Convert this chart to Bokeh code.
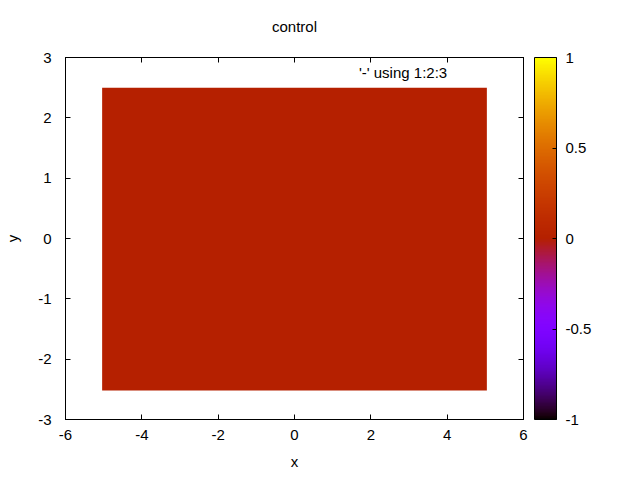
import math
import numpy as np
from bokeh.plotting import figure
from bokeh.models import (Range1d, LinearAxis, FixedTicker, ColorBar, LinearColorMapper,
                          NumeralTickFormatter, Label, ColumnDataSource, CustomLabelingPolicy)
from bokeh.transform import linear_cmap
from bokeh.embed import file_html
from bokeh.resources import INLINE

# ---- data ----
title_text = "control"
legend_text = "'-' using 1:2:3"
x_ticks = [-6, -4, -2, 0, 2, 4, 6]
y_ticks = [-3, -2, -1, 0, 1, 2, 3]
cb_ticks = [-1, -0.5, 0, 0.5, 1]
cell_left = [-5.04]
cell_right = [5.04]
cell_bottom = [-2.52]
cell_top = [2.50]
cell_z = [0.0]
z_low, z_high = -1.0, 1.0

# gnuplot default palette (rgbformulae 7,5,15)
def _gp(t):
    r = math.sqrt(t)
    g = t ** 3
    b = max(0.0, math.sin(2 * math.pi * t))
    return "#%02x%02x%02x" % (int(round(r * 255)), int(round(g * 255)), int(round(min(1, b) * 255)))

palette = [_gp(i / 255) for i in range(256)]
mapper = LinearColorMapper(palette=palette, low=z_low, high=z_high)

FONT = "Liberation Sans"
FS = "15px"

p = figure(width=640, height=480, output_backend="svg", toolbar_location=None,
           x_range=Range1d(-6, 6), y_range=Range1d(-3, 3),
           min_border_left=65, min_border_right=117, min_border_top=57, min_border_bottom=61,
           title=title_text)
p.background_fill_color = "white"
p.border_fill_color = "white"
p.outline_line_color = "black"
p.outline_line_width = 1
p.xgrid.grid_line_color = None
p.ygrid.grid_line_color = None

p.title.text_font = FONT
p.title.text_font_size = FS
p.title.text_font_style = "normal"
p.title.text_color = "black"
p.title.align = "center"
p.title.standoff = 10

src = ColumnDataSource(dict(left=cell_left, right=cell_right, bottom=cell_bottom, top=cell_top, z=cell_z))
p.quad(left="left", right="right", bottom="bottom", top="top", source=src,
       fill_color=linear_cmap("z", palette, z_low, z_high), line_color=None)

no_labels = CustomLabelingPolicy(code="""
for (const i of indices) { indices.unset(i) }
return indices
""")

def style_axis(ax, ticks, show_labels, hidden_size="0px"):
    ax.ticker = FixedTicker(ticks=ticks)
    ax.formatter = NumeralTickFormatter(format="0")
    ax.major_tick_in = 5
    ax.major_tick_out = 0
    ax.minor_tick_in = 0
    ax.minor_tick_out = 0
    ax.axis_line_color = "black"
    ax.major_tick_line_color = "black"
    ax.major_label_text_font = FONT
    ax.major_label_text_color = "black"
    ax.major_label_text_font_size = FS
    ax.axis_label_text_font = FONT
    ax.axis_label_text_font_size = FS
    ax.axis_label_text_font_style = "normal"
    ax.axis_label_text_color = "black"
    if not show_labels:
        ax.major_label_policy = no_labels
        ax.major_label_text_font_size = hidden_size
        ax.major_label_standoff = 0

xa = p.xaxis[0]
ya = p.yaxis[0]
style_axis(xa, x_ticks, True)
style_axis(ya, y_ticks, True)
xa.axis_label = "x"
ya.axis_label = "y"
xa.major_label_standoff = 10
xa.axis_label_standoff = 10
ya.major_label_standoff = 14
ya.axis_label_standoff = 14

# mirror axes (ticks only; their hidden labels only reserve spacing)
ra = LinearAxis()
style_axis(ra, y_ticks, False, "8.5px")
ta = LinearAxis()
style_axis(ta, x_ticks, False, "22px")
p.add_layout(ra, "right")
p.add_layout(ta, "above")

cb = ColorBar(color_mapper=mapper, ticker=FixedTicker(ticks=cb_ticks),
              formatter=NumeralTickFormatter(format="0.[0]"),
              width=22, margin=0, padding=0,
              major_label_text_font=FONT, major_label_text_font_size=FS,
              major_label_text_color="black", label_standoff=9,
              major_tick_in=4, major_tick_out=0, major_tick_line_color="black",
              minor_tick_line_color=None,
              bar_line_color="black", border_line_color=None,
              background_fill_color=None)
p.add_layout(cb, "right")

p.add_layout(Label(x=4.0, y=2.75, text=legend_text, text_align="right",
                   text_baseline="alphabetic", text_font=FONT, text_font_size=FS,
                   text_color="black"))

open("out.html", "w").write(file_html(p, INLINE))
